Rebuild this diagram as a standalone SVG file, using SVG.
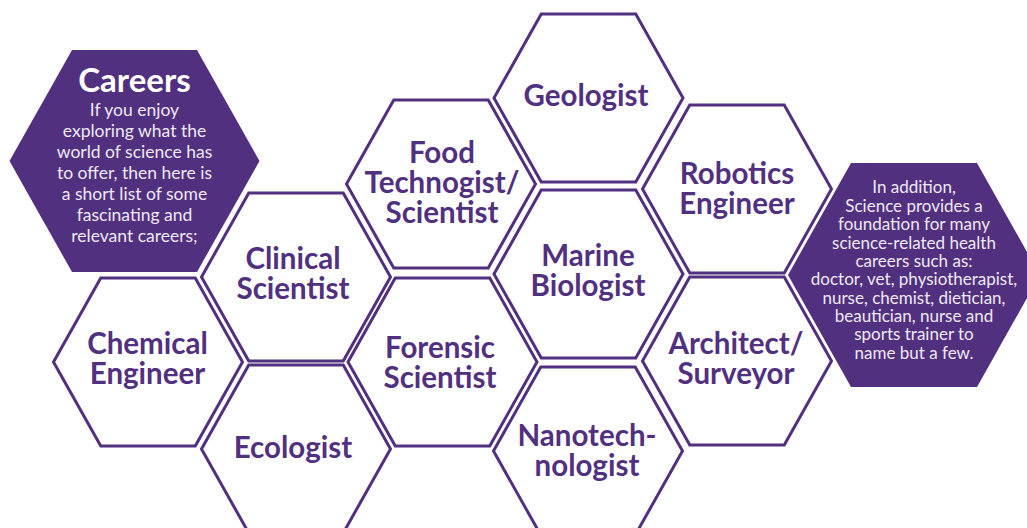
<svg xmlns="http://www.w3.org/2000/svg" width="1027" height="528" viewBox="0 0 1027 528">
<style>
.hex{fill:#ffffff;stroke:#51307f;stroke-width:3;stroke-linejoin:miter}
.dark{fill:#51307f;stroke:none}
.lbl{font-family:Lato,"Open Sans","Liberation Sans",sans-serif;font-weight:700;font-size:29.5px;fill:#51307f;text-anchor:middle}
.ttl{font-family:Lato,"Open Sans","Liberation Sans",sans-serif;font-weight:700;font-size:33px;fill:#ffffff;text-anchor:middle}
.body{font-family:Lato,"Open Sans","Liberation Sans",sans-serif;font-weight:400;font-size:17.5px;fill:#efe9f5;text-anchor:middle}
.body2{font-family:Lato,"Open Sans","Liberation Sans",sans-serif;font-weight:400;font-size:17px;fill:#efe9f5;text-anchor:middle}
</style>
<rect width="1027" height="528" fill="#ffffff"/>
<g id="connectors"></g>
<g id="careers">
<polygon class="dark" points="9.5,161 72,50 197,50 259.5,161 197,272 72,272"/>
<text class="ttl" x="134.5" y="92">Careers</text>
<text class="body" x="134.5" y="116">If you enjoy</text>
<text class="body" x="134.5" y="137">exploring what the</text>
<text class="body" x="134.5" y="158">world of science has</text>
<text class="body" x="134.5" y="179">to offer, then here is</text>
<text class="body" x="134.5" y="200">a short list of some</text>
<text class="body" x="134.5" y="221">fascinating and</text>
<text class="body" x="134.5" y="242">relevant careers;</text>
</g>
<g id="in-addition">
<polygon class="dark" points="788,275 851,163 977,163 1040,275 977,387 851,387"/>
<text class="body2" x="914" y="193">In addition,</text>
<text class="body2" x="914" y="211.5">Science provides a</text>
<text class="body2" x="914" y="230">foundation for many</text>
<text class="body2" x="914" y="248.5">science-related health</text>
<text class="body2" x="914" y="266.5">careers such as:</text>
<text class="body2" x="914" y="285">doctor, vet, physiotherapist,</text>
<text class="body2" x="914" y="303.5">nurse, chemist, dietician,</text>
<text class="body2" x="914" y="321.5">beautician, nurse and</text>
<text class="body2" x="914" y="340">sports trainer to</text>
<text class="body2" x="914" y="358.5">name but a few.</text>
</g>
<g id="chemical">
<polygon class="hex" points="53.5,362 100.75,278 195.25,278 242.5,362 195.25,446 100.75,446"/>
<text class="lbl" x="147.5" y="354">Chemical</text>
<text class="lbl" x="147.5" y="384">Engineer</text>
</g>
<g id="clinical">
<polygon class="hex" points="201.5,277 248.75,193 343.25,193 390.5,277 343.25,361 248.75,361"/>
<text class="lbl" x="293" y="269">Clinical</text>
<text class="lbl" x="293" y="299">Scientist</text>
</g>
<g id="ecologist">
<polygon class="hex" points="201.5,449 248.75,365 343.25,365 390.5,449 343.25,533 248.75,533"/>
<text class="lbl" x="293" y="458">Ecologist</text>
</g>
<g id="food">
<polygon class="hex" points="346.5,184 393.75,100 488.25,100 535.5,184 488.25,268 393.75,268"/>
<text class="lbl" x="442" y="163">Food</text>
<text class="lbl" x="442" y="193">Technogist/</text>
<text class="lbl" x="442" y="223">Scientist</text>
</g>
<g id="forensic">
<polygon class="hex" points="348,362 395.25,278 489.75,278 537,362 489.75,446 395.25,446"/>
<text class="lbl" x="440" y="358">Forensic</text>
<text class="lbl" x="440" y="388">Scientist</text>
</g>
<g id="geologist">
<polygon class="hex" points="494,98 541.25,14 635.75,14 683,98 635.75,182 541.25,182"/>
<text class="lbl" x="586" y="106">Geologist</text>
</g>
<g id="marine">
<polygon class="hex" points="494,274 541.25,190 635.75,190 683,274 635.75,358 541.25,358"/>
<text class="lbl" x="588" y="266">Marine</text>
<text class="lbl" x="588" y="296">Biologist</text>
</g>
<g id="nanotech">
<polygon class="hex" points="493.5,451 540.75,367 635.25,367 682.5,451 635.25,535 540.75,535"/>
<text class="lbl" x="587" y="446">Nanotech-</text>
<text class="lbl" x="587" y="476">nologist</text>
</g>
<g id="robotics">
<polygon class="hex" points="642.5,189 689.75,105 784.25,105 831.5,189 784.25,273 689.75,273"/>
<text class="lbl" x="737" y="184">Robotics</text>
<text class="lbl" x="737" y="214">Engineer</text>
</g>
<g id="architect">
<polygon class="hex" points="642.5,361 689.75,277 784.25,277 831.5,361 784.25,445 689.75,445"/>
<text class="lbl" x="736" y="354">Architect/</text>
<text class="lbl" x="736" y="384">Surveyor</text>
</g>
</svg>
